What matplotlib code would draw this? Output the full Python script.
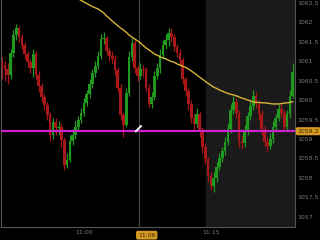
import matplotlib.pyplot as plt
import matplotlib.dates as mdates
import matplotlib.transforms as mtransforms
import numpy as np
import pandas as pd

# 20-second bars, 10:50:20 -> 11:24:40
times = pd.date_range("2024-01-02 10:50:20", periods=104, freq="20s")

first_open = 1060.95
closes = [1060.90, 1060.80, 1060.65, 1061.21, 1061.67, 1061.85, 1061.62, 1061.42, 1061.18, 1060.98,
          1060.82, 1061.18, 1060.65, 1060.36, 1060.08, 1059.88, 1059.62, 1059.10, 1059.44, 1059.28,
          1059.31, 1058.98, 1058.33, 1058.46, 1058.95, 1059.10, 1059.31, 1059.49, 1059.67, 1059.93,
          1060.16, 1060.41, 1060.70, 1060.88, 1061.13, 1061.57, 1061.59, 1061.26, 1061.13, 1061.06,
          1060.77, 1060.31, 1059.62, 1059.36, 1060.18, 1061.11, 1061.47, 1060.82, 1060.62, 1060.80,
          1060.77, 1060.31, 1059.90, 1060.08, 1060.62, 1060.82, 1061.16, 1061.42, 1061.54, 1061.72,
          1061.62, 1061.36, 1061.21, 1061.03, 1060.54, 1060.23, 1059.90, 1059.54, 1059.39, 1059.64,
          1059.23, 1058.80, 1058.49, 1058.05, 1057.80, 1058.00, 1058.28, 1058.51, 1058.69, 1058.92,
          1059.26, 1059.75, 1059.95, 1059.67, 1058.95, 1058.90, 1059.21, 1059.59, 1059.85, 1060.11,
          1059.90, 1059.64, 1059.26, 1058.92, 1058.82, 1059.00, 1059.31, 1059.54, 1059.77, 1059.67,
          1059.31, 1059.64, 1060.11, 1060.72]
highs = [1061.10, 1061.00, 1060.95, 1061.30, 1061.80, 1061.95, 1061.90, 1061.70, 1061.50, 1061.25,
         1061.05, 1061.30, 1061.25, 1060.75, 1060.45, 1060.15, 1059.95, 1059.70, 1059.55, 1059.55,
         1059.45, 1059.40, 1059.05, 1058.65, 1059.10, 1059.25, 1059.45, 1059.60, 1059.80, 1060.05,
         1060.25, 1060.55, 1060.80, 1061.00, 1061.25, 1061.70, 1061.75, 1061.65, 1061.35, 1061.25,
         1061.15, 1060.85, 1060.40, 1059.70, 1060.30, 1061.25, 1061.60, 1061.55, 1060.90, 1060.95,
         1060.90, 1060.85, 1060.40, 1060.20, 1060.75, 1060.95, 1061.30, 1061.55, 1061.70, 1061.85,
         1061.85, 1061.70, 1061.45, 1061.30, 1061.10, 1060.60, 1060.30, 1060.00, 1059.65, 1059.80,
         1059.70, 1059.30, 1058.90, 1058.55, 1058.15, 1058.15, 1058.40, 1058.65, 1058.80, 1059.05,
         1059.40, 1059.90, 1060.10, 1060.05, 1059.75, 1059.10, 1059.35, 1059.70, 1060.00, 1060.25,
         1060.20, 1060.00, 1059.75, 1059.35, 1059.05, 1059.15, 1059.45, 1059.65, 1059.90, 1059.90,
         1059.75, 1059.75, 1060.25, 1060.95]
lows = [1060.55, 1060.50, 1060.40, 1060.55, 1061.10, 1061.55, 1061.50, 1061.30, 1061.05, 1060.85,
        1060.70, 1060.60, 1060.55, 1060.20, 1059.95, 1059.75, 1059.50, 1058.95, 1059.00, 1059.10,
        1059.10, 1058.80, 1058.20, 1058.25, 1058.40, 1058.85, 1059.00, 1059.20, 1059.40, 1059.60,
        1059.85, 1060.05, 1060.30, 1060.60, 1060.80, 1061.05, 1061.45, 1061.15, 1061.00, 1060.95,
        1060.65, 1060.20, 1059.50, 1059.05, 1059.30, 1060.10, 1061.00, 1060.70, 1060.50, 1060.55,
        1060.60, 1060.20, 1059.80, 1059.80, 1060.00, 1060.55, 1060.70, 1061.05, 1061.30, 1061.40,
        1061.50, 1061.25, 1061.10, 1060.90, 1060.40, 1060.10, 1059.75, 1059.40, 1059.20, 1059.30,
        1059.05, 1058.65, 1058.35, 1057.90, 1057.70, 1057.65, 1057.90, 1058.20, 1058.40, 1058.60,
        1058.85, 1059.15, 1059.65, 1059.55, 1058.80, 1058.75, 1058.80, 1059.10, 1059.50, 1059.75,
        1059.80, 1059.50, 1059.10, 1058.80, 1058.70, 1058.75, 1058.90, 1059.20, 1059.45, 1059.55,
        1059.20, 1059.20, 1059.55, 1060.05]
# moving average (only the part visible below the top edge), starts at bar 27
ma_start = 27
ma = [1062.60, 1062.56, 1062.52, 1062.48, 1062.44, 1062.40, 1062.37, 1062.34, 1062.29, 1062.24,
      1062.16, 1062.10, 1062.03, 1061.97, 1061.91, 1061.85, 1061.80, 1061.74, 1061.67, 1061.62,
      1061.57, 1061.52, 1061.47, 1061.40, 1061.34, 1061.29, 1061.24, 1061.18, 1061.15, 1061.11,
      1061.08, 1061.06, 1061.02, 1060.99, 1060.97, 1060.93, 1060.90, 1060.87, 1060.84, 1060.80,
      1060.75, 1060.70, 1060.64, 1060.59, 1060.54, 1060.48, 1060.43, 1060.38, 1060.33, 1060.30,
      1060.26, 1060.23, 1060.20, 1060.17, 1060.15, 1060.13, 1060.11, 1060.08, 1060.05, 1060.03,
      1060.00, 1059.98, 1059.95, 1059.94, 1059.94, 1059.93, 1059.93, 1059.92, 1059.91, 1059.90,
      1059.90, 1059.90, 1059.91, 1059.92, 1059.93, 1059.94, 1059.96]

level = 1059.2
yticks = [1057, 1057.5, 1058, 1058.5, 1059, 1059.5, 1060, 1060.5, 1061, 1061.5, 1062, 1062.5]
ytick_labels = ["1057", "1057.5", "1058", "1058.5", "1059", "1059.5",
                "1060", "1060.5", "1061", "1061.5", "1062", "1062.5"]

df = pd.DataFrame({"close": closes, "high": highs, "low": lows}, index=times)
df["open"] = df["close"].shift(1).fillna(first_open)
up = df["close"] >= df["open"]

green = "#1f9a1f"
red = "#a81818"

fig = plt.figure(figsize=(3.2, 2.4), dpi=100, facecolor="black")
ax = fig.add_axes([1 / 320, 13 / 240, 294 / 320, 227 / 240])
ax.set_facecolor("black")

t0 = pd.Timestamp("2024-01-02 10:50:12")
t1 = pd.Timestamp("2024-01-02 11:24:56")
ax.set_xlim(mdates.date2num(t0), mdates.date2num(t1))
ax.set_ylim(1056.74, 1062.57)

# shaded area on the right
ax.axvspan(mdates.date2num(pd.Timestamp("2024-01-02 11:14:25")), mdates.date2num(t1),
           color="#1a1a1a", zorder=0)

# candles
x = mdates.date2num(df.index.to_pydatetime())
w = 20 / 86400 * 0.95
cols = np.where(up, green, red)
ax.vlines(x, df["low"], df["high"], colors=cols, lw=0.9, zorder=2)
ax.bar(x, (df["close"] - df["open"]).abs().clip(lower=0.03),
       bottom=np.minimum(df["open"], df["close"]), width=w, color=cols, lw=0, zorder=3)

# moving average
ax.plot(x[ma_start:], ma, color="#d8b43a", lw=1.0, zorder=4)

# level line
ax.axhline(level, color="#cc22cc", lw=1.6, zorder=5)

# crosshair
tc = mdates.date2num(pd.Timestamp("2024-01-02 11:06:30"))
ax.axvline(tc, color="#4a4a3a", lw=0.8, zorder=1)
ax.plot([mdates.date2num(pd.Timestamp("2024-01-02 11:06:08")),
         mdates.date2num(pd.Timestamp("2024-01-02 11:06:44"))],
        [1059.2, 1059.33], color="white", lw=1.4, zorder=6)

# axes styling
ax.yaxis.tick_right()
ax.set_yticks(yticks)
ax.set_yticklabels(ytick_labels)
ax.set_xticks([mdates.date2num(pd.Timestamp("2024-01-02 11:00")),
               mdates.date2num(pd.Timestamp("2024-01-02 11:15"))])
ax.set_xticklabels(["11:00", "11:15"])
ax.tick_params(colors="#7a7a7a", labelsize=4.5, length=0, pad=2)
for s in ["left", "bottom", "right"]:
    ax.spines[s].set_color("#555555")
    ax.spines[s].set_linewidth(0.8)
ax.spines["top"].set_visible(False)

# current value tags
trans = mtransforms.blended_transform_factory(ax.transAxes, ax.transData)
ax.text(1.008, level, "1059.2", transform=trans, ha="left", va="center", fontsize=4.5,
        color="#3a2800", bbox=dict(boxstyle="round,pad=0.25", fc="#d49a22", ec="none"), zorder=7)
transx = mtransforms.blended_transform_factory(ax.transData, ax.transAxes)
ax.text(mdates.date2num(pd.Timestamp("2024-01-02 11:07:25")), -0.025, "11:06", transform=transx,
        ha="center", va="top", fontsize=4.5, color="#3a2800",
        bbox=dict(boxstyle="round,pad=0.3", fc="#d49a22", ec="none"), zorder=7)

fig.savefig("out.png", dpi=100, facecolor="black")
